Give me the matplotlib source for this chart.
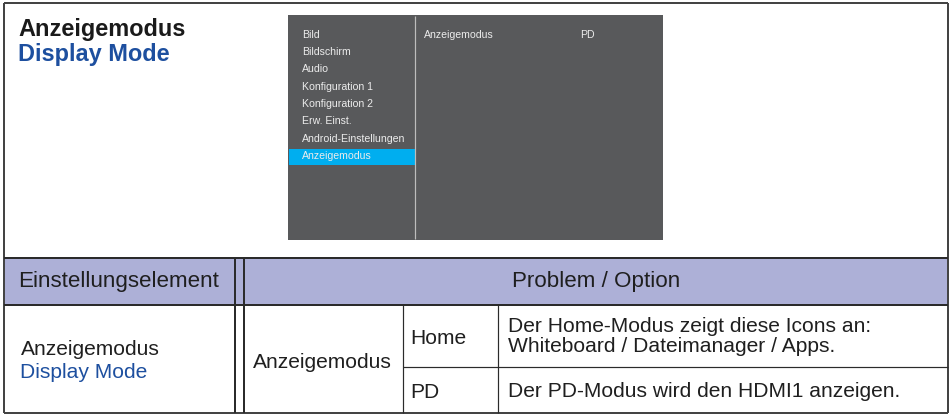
"""
Anzeigemodus / Display Mode – Handbuchseite als matplotlib-Figur.
Oben: OSD-Menü (Bildschirmfoto-Nachbau), unten: Einstellungstabelle.
"""

import matplotlib.pyplot as plt

plt.rcParams['font.family'] = ['Liberation Sans', 'DejaVu Sans']

# ──────────────────────────────────────────────────────────────
# Inhalte
# ──────────────────────────────────────────────────────────────
title_de = "Anzeigemodus"
title_en = "Display Mode"

menu_items = ["Bild", "Bildschirm", "Audio", "Konfiguration 1",
              "Konfiguration 2", "Erw. Einst.", "Android-Einstellungen",
              "Anzeigemodus"]
menu_selected = "Anzeigemodus"
osd_setting = "Anzeigemodus"
osd_value = "PD"

header_left = "Einstellungselement"
header_right = "Problem / Option"
item_de = "Anzeigemodus"
item_en = "Display Mode"
sub_item = "Anzeigemodus"
options = ["Home", "PD"]
option_text = [["Der Home-Modus zeigt diese Icons an:",
                "Whiteboard / Dateimanager / Apps."],
               ["Der PD-Modus wird den HDMI1 anzeigen."]]

# Farben
BLUE = '#1d4f9f'
HEADER_BG = '#adb0d7'
OSD_BG = '#58595b'
OSD_SEL = '#00aeef'
OSD_TXT = '#ececec'
LINE = '#2b2b2b'

W, H = 952, 415
PX = 0.72  # px -> pt bei dpi 100

fig = plt.figure(figsize=(W / 100, H / 100), dpi=100)
ax = fig.add_axes([0, 0, 1, 1])
ax.set_xlim(0, W)
ax.set_ylim(H, 0)
ax.axis('off')


def hline(y, x0, x1, lw=1.0, c=LINE):
    ax.plot([x0, x1], [y, y], color=c, lw=lw * PX, solid_capstyle='butt')


def vline(x, y0, y1, lw=1.0, c=LINE):
    ax.plot([x, x], [y0, y1], color=c, lw=lw * PX, solid_capstyle='butt')


# ── Titel ─────────────────────────────────────────────────────
ax.text(18, 35.7, title_de, fontsize=23.5 * PX, fontweight='bold',
        color='#1a1a1a', va='baseline')
ax.text(18, 61.5, title_en, fontsize=23.5 * PX, fontweight='bold',
        color=BLUE, va='baseline')

# ── OSD-Menü ──────────────────────────────────────────────────
ax.add_patch(plt.Rectangle((288, 15), 375, 224.5, color=OSD_BG, lw=0))
vline(415.3, 16, 238.7, lw=1.2, c='#bdbdbd')
for i, item in enumerate(menu_items):
    yb = 37.8 + i * 17.3
    if item == menu_selected:
        ax.add_patch(plt.Rectangle((289, yb - 10), 126, 15.7,
                                   color=OSD_SEL, lw=0))
    ax.text(302, yb, item, fontsize=10.5 * PX, color=OSD_TXT, va='baseline')
ax.text(423.5, 37.8, osd_setting, fontsize=10.5 * PX, color=OSD_TXT,
        va='baseline')
ax.text(580, 37.8, osd_value, fontsize=10.5 * PX, color=OSD_TXT,
        va='baseline')

# ── Tabelle ───────────────────────────────────────────────────
left, right, top, bottom = 3.5, 948, 3.5, 412.5
y_head0, y_head1, y_split = 258, 305, 366.5
x_dbl = (235.3, 244)
x_opt, x_txt = 402.7, 498

ax.add_patch(plt.Rectangle((left, y_head0), right - left, y_head1 - y_head0,
                           color=HEADER_BG, lw=0))

# Rahmen
hline(top, left, right, lw=2, c='#444444')
hline(bottom, left, right, lw=2, c='#444444')
vline(left, top, bottom, lw=2, c='#444444')
vline(right, top, bottom, lw=2, c='#444444')

hline(y_head0, left, right, lw=2)
hline(y_head1, left, right, lw=2)
for x in x_dbl:
    vline(x, y_head0, bottom, lw=2)
vline(x_opt, y_head1, bottom, lw=1.2)
vline(x_txt, y_head1, bottom, lw=1.2)
hline(y_split, x_opt, right, lw=1.2)

FS_HEAD = 22.4 * PX
FS_BODY = 21 * PX
TXT = '#1f1f1f'

ax.text(18.5, 286.7, header_left, fontsize=FS_HEAD, color=TXT,
        va='baseline')
ax.text((x_dbl[1] + right) / 2, 286.7, header_right, fontsize=FS_HEAD,
        color=TXT, va='baseline', ha='center')

ax.text(20.5, 355, item_de, fontsize=FS_BODY, color=TXT, va='baseline')
ax.text(20.5, 378, item_en, fontsize=FS_BODY, color=BLUE, va='baseline')
ax.text(252.5, 368.3, sub_item, fontsize=FS_BODY, color=TXT, va='baseline')

opt_base = [344.3, 397.8]
for opt, yb in zip(options, opt_base):
    ax.text(410, yb, opt, fontsize=FS_BODY, color=TXT, va='baseline')

txt_base = [[331.7, 351.7], [396.8]]
for lines, ybs in zip(option_text, txt_base):
    for line, yb in zip(lines, ybs):
        ax.text(507.5, yb, line, fontsize=FS_BODY, color=TXT, va='baseline')

fig.savefig("out.png", dpi=100, facecolor='white')
